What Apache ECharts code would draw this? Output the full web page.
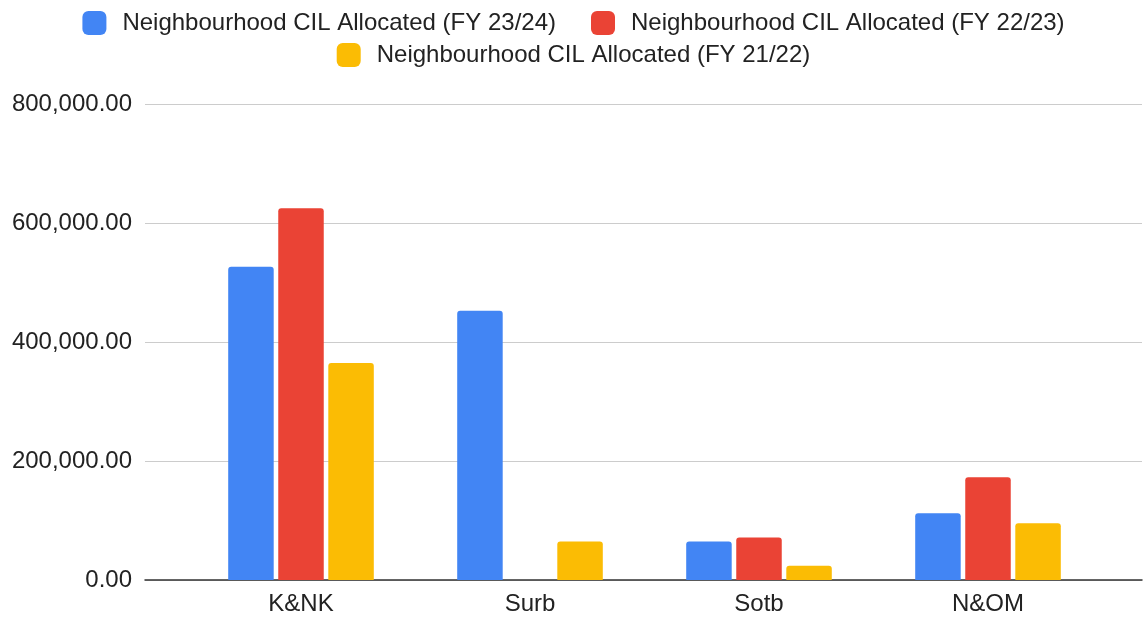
<!DOCTYPE html>
<html><head><meta charset="utf-8">
<script src="https://cdn.jsdelivr.net/npm/echarts@6/dist/echarts.min.js"></script>
<style>html,body{margin:0;padding:0;background:#fff}#c{width:1147px;height:617px}</style>
</head><body><div id="c"></div>
<script>
const categories = ['K&NK', 'Surb', 'Sotb', 'N&OM'];
const seriesNames = ['Neighbourhood CIL Allocated (FY 23/24)', 'Neighbourhood CIL Allocated (FY 22/23)', 'Neighbourhood CIL Allocated (FY 21/22)'];
const fy2324 = [526500, 452500, 64500, 112000];
const fy2223 = [624700, 0, 71500, 172500];
const fy2122 = [364700, 64500, 24000, 95300];
const yTicks = [0, 200000, 400000, 600000, 800000];
const colors = ['#4285F4', '#EA4335', '#FBBC04'];

const fmt = v => v.toLocaleString('en-US', {minimumFractionDigits: 2, maximumFractionDigits: 2});
const FONT = '"Liberation Sans", Arial, sans-serif';
const FS = 24;
const yMin = yTicks[0], yMax = yTicks[yTicks.length - 1], yInt = yTicks[1] - yTicks[0];

const chart = echarts.init(document.getElementById('c'));
const legendCommon = {
  itemWidth: 24, itemHeight: 24, itemGap: 35, icon: 'roundRect',
  textStyle: {fontFamily: FONT, fontSize: FS, color: '#222', padding: [0, 0, 0, 11]},
  selectedMode: false
};
chart.setOption({
  animation: false,
  color: colors,
  legend: [
    Object.assign({top: 6, left: 'center', data: [seriesNames[0], seriesNames[1]]}, legendCommon),
    Object.assign({top: 38, left: 'center', data: [seriesNames[2]]}, legendCommon)
  ],
  grid: [
    {left: 145, right: 5, top: 104, bottom: 37},
    {left: 186.5, right: 44.5, top: 104, bottom: 37}
  ],
  xAxis: [
    {gridIndex: 0, type: 'category', data: [''], axisLine: {lineStyle: {color: '#333', width: 1.5}}, axisTick: {show: false}, axisLabel: {show: false}},
    {gridIndex: 1, type: 'category', data: categories, axisLine: {show: false}, axisTick: {show: false},
     axisLabel: {fontFamily: FONT, fontSize: FS, color: '#222', margin: 12}}
  ],
  yAxis: [
    {gridIndex: 0, type: 'value', min: yMin, max: yMax, interval: yInt,
     axisLine: {show: false}, axisTick: {show: false},
     splitLine: {lineStyle: {color: '#ccc', width: 1.2}},
     axisLabel: {fontFamily: FONT, fontSize: FS, color: '#222', margin: 13, formatter: v => fmt(v)}},
    {gridIndex: 1, type: 'value', min: yMin, max: yMax, interval: yInt, show: false, splitLine: {show: false}}
  ],
  series: [fy2324, fy2223, fy2122].map((d, i) => ({
    name: seriesNames[i], type: 'bar', xAxisIndex: 1, yAxisIndex: 1, data: d,
    barWidth: 45.5, barGap: '10%',
    itemStyle: {color: colors[i], borderRadius: [3, 3, 0, 0]}
  }))
});
</script></body></html>
